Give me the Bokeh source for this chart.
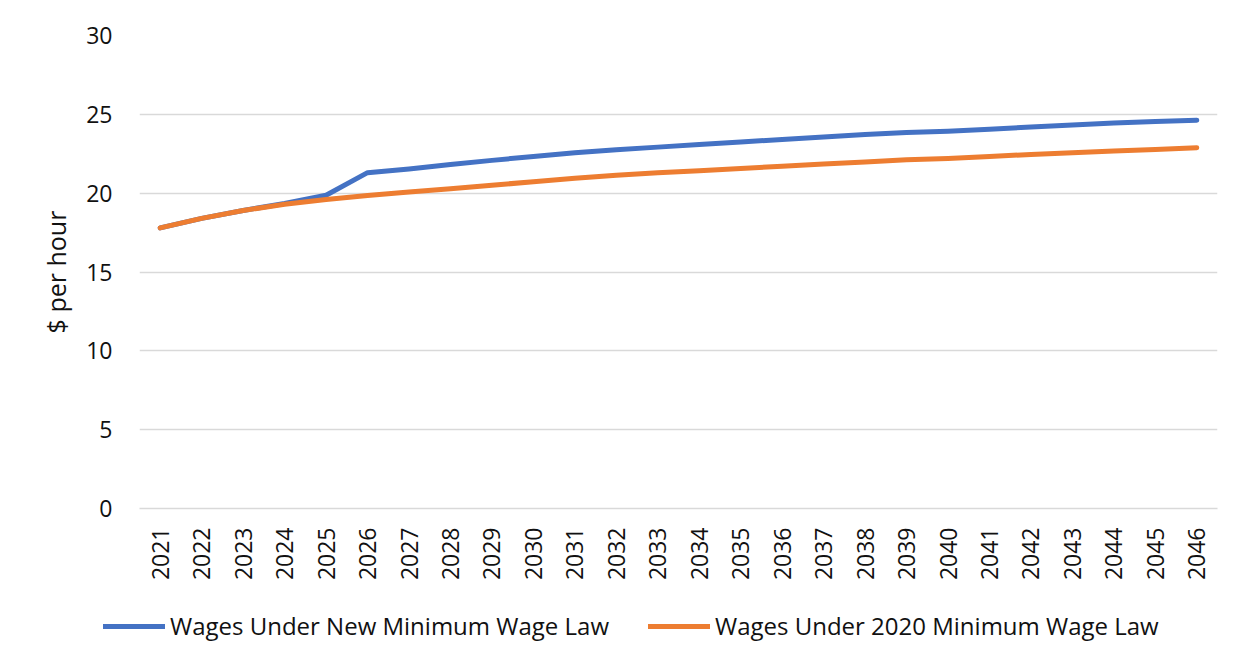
import math
from bokeh.plotting import figure
from bokeh.layouts import column
from bokeh.models import FactorRange, Range1d, FixedTicker, Legend, LegendItem
from bokeh.embed import file_html
from bokeh.resources import INLINE

years = ["2021", "2022", "2023", "2024", "2025", "2026", "2027", "2028", "2029",
         "2030", "2031", "2032", "2033", "2034", "2035", "2036", "2037", "2038",
         "2039", "2040", "2041", "2042", "2043", "2044", "2045", "2046"]

new_law = [17.8, 18.4, 18.9, 19.35, 19.87, 21.3, 21.54, 21.82, 22.08, 22.33,
           22.56, 22.76, 22.92, 23.09, 23.24, 23.41, 23.57, 23.72, 23.85, 23.93,
           24.05, 24.2, 24.33, 24.45, 24.55, 24.63]
old_law = [17.8, 18.4, 18.9, 19.3, 19.6, 19.85, 20.07, 20.28, 20.5, 20.73,
           20.94, 21.13, 21.3, 21.42, 21.56, 21.71, 21.85, 21.98, 22.12, 22.2,
           22.32, 22.46, 22.57, 22.68, 22.77, 22.88]

y_ticks = [0, 5, 10, 15, 20, 25, 30]
y_label = "$ per hour"
names = ["Wages Under New Minimum Wage Law", "Wages Under 2020 Minimum Wage Law"]
colors = ["#4472C4", "#ED7D31"]

FONT = "Open Sans"
TXT = "#111111"

# main chart
p = figure(width=1242, height=600, output_backend="svg", toolbar_location=None,
           x_range=FactorRange(factors=years), y_range=Range1d(0, 30),
           min_border_left=139, min_border_right=25, min_border_top=35,
           min_border_bottom=92)
p.frame_align = False
p.outline_line_color = None
p.background_fill_color = "white"
p.border_fill_color = "white"

p.line(years, new_law, line_color=colors[0], line_width=5, line_cap="round", line_join="round")
p.line(years, old_law, line_color=colors[1], line_width=5, line_cap="round", line_join="round")

p.xgrid.grid_line_color = None
p.ygrid.grid_line_color = "#d9d9d9"
p.ygrid.grid_line_width = 1.3
p.yaxis.ticker = FixedTicker(ticks=y_ticks)

p.yaxis.axis_line_color = None
p.yaxis.major_tick_line_color = None
p.yaxis.minor_tick_line_color = None
p.yaxis.major_label_standoff = 21
p.yaxis.major_label_text_font = FONT
p.yaxis.major_label_text_font_size = "23px"
p.yaxis.major_label_text_color = TXT
p.yaxis.axis_label = y_label
p.yaxis.axis_label_text_font = FONT
p.yaxis.axis_label_text_font_size = "25px"
p.yaxis.axis_label_text_font_style = "normal"
p.yaxis.axis_label_text_color = TXT
p.yaxis.axis_label_standoff = 10

p.xaxis.axis_line_color = "#d9d9d9"
p.xaxis.axis_line_width = 1.3
p.xaxis.major_tick_line_color = None
p.xaxis.minor_tick_line_color = None
p.xaxis.major_label_orientation = math.pi / 2
p.xaxis.major_label_standoff = 13
p.xaxis.major_label_text_font = FONT
p.xaxis.major_label_text_font_size = "23px"
p.xaxis.major_label_text_color = TXT

# legend strip below the chart (its sample lines lie outside its own view)
lg = figure(width=1242, height=63, output_backend="svg", toolbar_location=None,
            x_range=FactorRange(factors=years), y_range=Range1d(100, 101),
            x_axis_type=None, y_axis_type=None,
            min_border_left=0, min_border_right=0, min_border_top=0, min_border_bottom=0)
lg.frame_align = False
lg.outline_line_color = None
lg.xgrid.visible = False
lg.ygrid.visible = False
l1 = lg.line(years, new_law, line_color=colors[0], line_width=5, line_cap="round")
l2 = lg.line(years, old_law, line_color=colors[1], line_width=5, line_cap="round")

legend = Legend(items=[LegendItem(label=names[0], renderers=[l1]),
                       LegendItem(label=names[1], renderers=[l2])],
                orientation="horizontal", location=(103, 21),
                glyph_width=62, glyph_height=26, label_standoff=5, spacing=39,
                padding=0, margin=0, border_line_color=None, background_fill_alpha=0,
                label_text_font=FONT, label_text_font_size="24px", label_text_color=TXT)
lg.add_layout(legend, "center")

layout = column(p, lg, spacing=0)
open("out.html", "w").write(file_html(layout, INLINE))
